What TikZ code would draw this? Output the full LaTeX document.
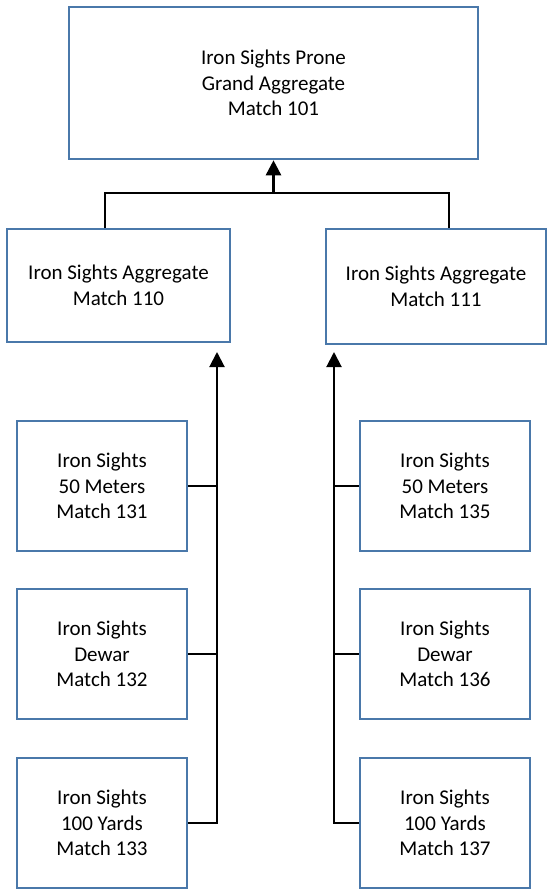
\documentclass[tikz,border=0pt]{standalone}
\usepackage{fontspec}
\setmainfont{Carlito}
\usetikzlibrary{arrows.meta}
\definecolor{boxblue}{RGB}{74,120,170}

\begin{document}
\begin{tikzpicture}[x=1pt,y=-1pt,
	box/.style={rectangle,draw=boxblue,line width=2.6pt,fill=white,align=center,inner sep=0pt,font=\fontsize{21}{25.7}\selectfont},
	small/.style={box,minimum width=170pt,minimum height=130pt},
	link/.style={draw=black,line width=2pt},
	arr/.style={link,-{Triangle[width=15pt,length=15pt]}}]
	\useasboundingbox (0,0) rectangle (546,890);
	\node[box,minimum width=409pt,minimum height=152pt] (grand) at (273.5,83) {Iron Sights Prone\\Grand Aggregate\\Match 101};
	\node[box,minimum width=223pt,minimum height=113pt] (agg110) at (118.5,285.5) {Iron Sights Aggregate\\Match 110};
	\node[box,minimum width=220pt,minimum height=115pt] (agg111) at (436,286.5) {Iron Sights Aggregate\\Match 111};
	\foreach \y/\d/\l/\r in {486/50 Meters/131/135,654/Dewar/132/136,823/100 Yards/133/137}{
		\node[small] (m\l) at (102,\y) {Iron Sights\\\d\\Match \l};
		\node[small] (m\r) at (445,\y) {Iron Sights\\\d\\Match \r};
	}
	\coordinate (hub) at (273.5,193);
	\coordinate (ltip) at (217,352);
	\coordinate (rtip) at (334,352);
	\draw[link] ([xshift=-13.5pt]agg110.north) |- (hub) -| ([xshift=13pt]agg111.north);
	\draw[arr,line width=2.6pt] (hub) -- (grand.south);
	\draw[arr] (m133.east) -| (ltip);
	\draw[arr] (m137.west) -| (rtip);
	\foreach \l/\r in {131/135,132/136}{
		\draw[link] (m\l.east) -- (m\l.east -| ltip);
		\draw[link] (m\r.west) -- (m\r.west -| rtip);
	}
\end{tikzpicture}
\end{document}
